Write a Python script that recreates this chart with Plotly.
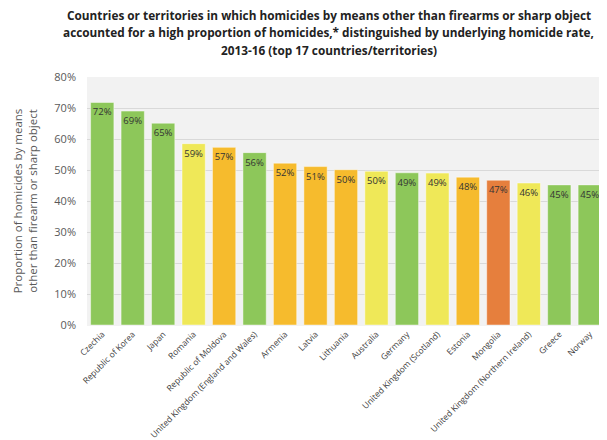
import plotly.graph_objects as go

countries = ["Czechia", "Republic of Korea", "Japan", "Romania", "Republic of Moldova",
             "United Kingdom (England and Wales)", "Armenia", "Latvia", "Lithuania",
             "Australia", "Germany", "United Kingdom (Scotland)", "Estonia", "Mongolia",
             "United Kingdom (Northern Ireland)", "Greece", "Norway"]
values = [71.8, 69.0, 65.1, 58.5, 57.3, 55.6, 52.2, 51.1, 50.1, 49.6, 49.1, 49.0,
          47.7, 46.7, 45.8, 45.2, 45.2]
rate_group = ["low", "low", "low", "mid", "high", "low", "high", "high", "high",
              "mid", "low", "mid", "high", "vhigh", "mid", "low", "low"]
group_colors = {"low": "#8DC75A", "mid": "#EFE858", "high": "#F6BB2D", "vhigh": "#E67F3D"}
y_ticks = [0, 10, 20, 30, 40, 50, 60, 70, 80]
y_tick_labels = [f"{v}%" for v in y_ticks]
title_lines = [
    "Countries or territories in which homicides by means other than firearms or sharp object",
    "accounted for a high proportion of homicides,* distinguished by underlying homicide rate,",
    "2013-16 (top 17 countries/territories)",
]

fig = go.Figure(go.Bar(
    x=countries, y=values,
    marker=dict(color=[group_colors[g] for g in rate_group],
                line=dict(color="rgba(255,255,255,0.45)", width=1)),
    texttemplate="%{y:.0f}%", textposition="inside", insidetextanchor="end",
    textangle=0, constraintext="none",
    textfont=dict(family="Open Sans", size=9.5, color="#333333"),
    hoverinfo="skip",
))

# the page body adds an 8px offset; figure is 599x432.
# plot area spans figure rows 69..317 (height 248), columns 79..597.5
PL, PR, PT, PB = 79, 597.5, 69, 317
title_rows = [7, 24, 42]
for line, row in zip(title_lines, title_rows):
    fig.add_annotation(text=line, xref="paper", yref="paper",
                       x=(321 - PL) / (PR - PL), y=(PB - row) / (PB - PT),
                       xanchor="center", yanchor="middle", showarrow=False,
                       font=dict(family="Open Sans", size=11.8, color="#222222", weight="bold"))

fig.update_layout(
    width=599, height=432,
    margin=dict(l=PL, r=599 - PR, t=PT, b=432 - PB),
    paper_bgcolor="white", plot_bgcolor="#F2F2F2",
    bargap=0.236, showlegend=False,
    xaxis=dict(tickangle=-45, tickfont=dict(family="Open Sans", size=8.5, color="#404040"),
               showgrid=False, ticks="", linecolor="#F2F2F2", automargin=False),
    yaxis=dict(range=[0, 80], tickvals=y_ticks, ticktext=y_tick_labels,
               tickfont=dict(family="Open Sans", size=11, color="#595959"),
               ticklabelstandoff=10, automargin=False,
               gridcolor="#D9D9D9", gridwidth=1, zeroline=False, ticks="",
               title=dict(text="Proportion of homicides by means<br>other than firearm or sharp object",
                          font=dict(family="Open Sans", size=11.5, color="#595959"), standoff=14)),
)

fig.write_html("out.html")
